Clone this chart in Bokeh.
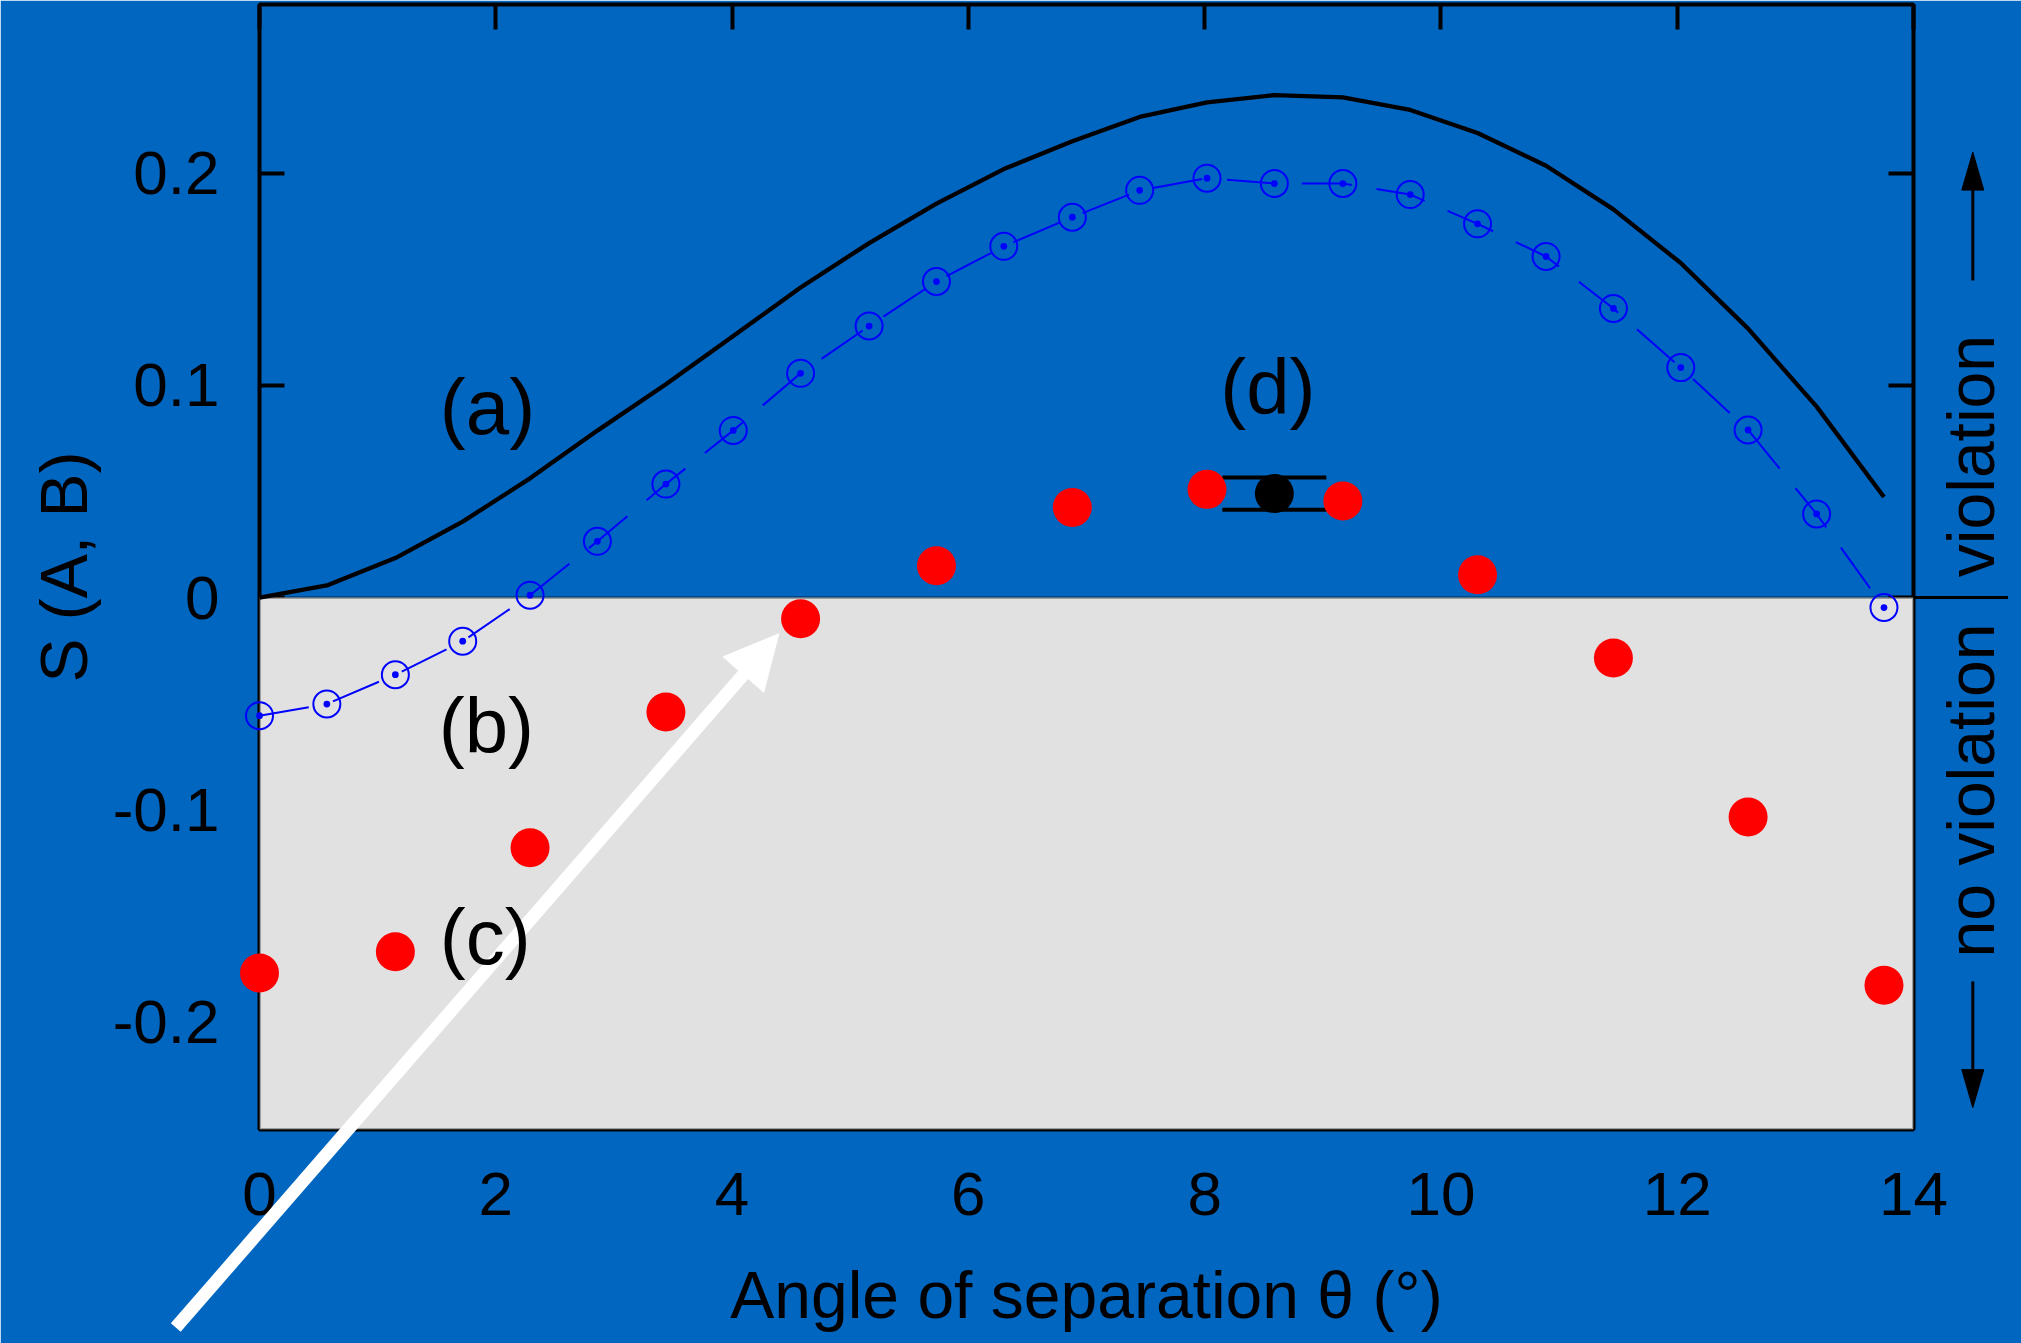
import math
from bokeh.plotting import figure
from bokeh.models import (Range1d, FixedTicker, LinearAxis, BoxAnnotation, Label,
                          TeeHead, Whisker, ColumnDataSource, CustomLabelingPolicy)
from bokeh.core.properties import value
from bokeh.embed import file_html
from bokeh.resources import INLINE

# ---------------- data ----------------
# (c) measured values, red dots
theta_c = [0.0, 1.15, 2.29, 3.44, 4.58, 5.73, 6.88, 8.02, 9.17, 10.31, 11.46, 12.60, 13.75]
s_c = [-0.177, -0.167, -0.118, -0.054, -0.010, 0.015, 0.0425, 0.051, 0.0455, 0.0107,
       -0.0285, -0.1035, -0.1828]

# (a) black curve and (b) blue circles share the same angle grid
theta_ab = [0.0, 0.57, 1.15, 1.72, 2.29, 2.86, 3.44, 4.01, 4.58, 5.16, 5.73, 6.30, 6.88,
            7.45, 8.02, 8.59, 9.17, 9.74, 10.31, 10.89, 11.46, 12.03, 12.60, 13.18, 13.75]
s_a = [0.0, 0.0057, 0.0186, 0.0358, 0.0562, 0.0787, 0.1006, 0.1233, 0.1462, 0.1671,
       0.1857, 0.2020, 0.2151, 0.2266, 0.2335, 0.2369, 0.2358, 0.2299, 0.2190, 0.2036,
       0.1830, 0.1577, 0.1268, 0.0900, 0.0474]
s_b = [-0.0557, -0.0502, -0.0364, -0.0206, 0.0011, 0.0265, 0.0535, 0.0788, 0.1057, 0.1280,
       0.1490, 0.1656, 0.1793, 0.1920, 0.1977, 0.1952, 0.1952, 0.1900, 0.1762, 0.1608,
       0.1363, 0.1084, 0.0790, 0.0394, -0.0047]

# (d) single point with error bar
theta_d = [8.59]
s_d = [0.049]
err_d = [0.0076]

x_ticks = [0, 2, 4, 6, 8, 10, 12, 14]
x_tick_labels = ["0", "2", "4", "6", "8", "10", "12", "14"]
y_ticks = [-0.2, -0.1, 0, 0.1, 0.2]
y_tick_labels = ["-0.2", "-0.1", "0", "0.1", "0.2"]

curve_labels = ["(a)", "(b)", "(c)", "(d)"]
side_labels = ["violation", "no violation"]

# ---------------- style ----------------
BG = "#0066C0"
GRAY = "#E1E1E1"
FONT = "Liberation Sans"
X_MIN, X_MAX = 0, 14
Y_MIN, Y_MAX = -0.2508, 0.2796
W, H = 2021, 1343
B_LEFT, B_RIGHT, B_TOP, B_BOTTOM = 259, 108, 4, 214
# pixels per data unit (for sizing the hand-drawn arrow heads)
XS = (W - B_LEFT - B_RIGHT) / (X_MAX - X_MIN)
YS = (H - B_TOP - B_BOTTOM) / (Y_MAX - Y_MIN)

p = figure(width=W, height=H,
           x_range=Range1d(X_MIN, X_MAX), y_range=Range1d(Y_MIN, Y_MAX),
           output_backend="svg", toolbar_location=None,
           x_axis_location=None, y_axis_location=None,
           min_border_left=B_LEFT, min_border_right=B_RIGHT,
           min_border_top=B_TOP, min_border_bottom=B_BOTTOM,
           background_fill_color=BG, border_fill_color=BG,
           outline_line_color="black", outline_line_width=4)
p.grid.visible = False


def tick_only_axis(ticks):
    ax = LinearAxis(ticker=FixedTicker(ticks=ticks),
                    major_label_policy=CustomLabelingPolicy(code="return []"))
    ax.axis_line_color = None
    ax.major_tick_in = 25
    ax.major_tick_out = 0
    ax.major_tick_line_width = 4
    ax.major_tick_line_color = "black"
    ax.minor_tick_line_color = None
    ax.major_label_text_font_size = "0px"
    ax.major_label_standoff = 0
    ax.axis_label = None
    return ax


def label_axis(ticks, labels, title, standoff, title_standoff, tick_marks):
    ax = LinearAxis(ticker=FixedTicker(ticks=ticks),
                    major_label_overrides={t: l for t, l in zip(ticks, labels)})
    ax.axis_line_color = None
    ax.major_tick_line_color = "black" if tick_marks else None
    ax.major_tick_line_width = 4
    ax.minor_tick_line_color = None
    ax.major_tick_in = 25 if tick_marks else 0
    ax.major_tick_out = 0
    ax.major_label_text_font = FONT
    ax.major_label_text_font_size = "62px"
    ax.major_label_text_color = "black"
    ax.major_label_standoff = standoff
    ax.axis_label = title
    ax.axis_label_text_font = FONT
    ax.axis_label_text_font_size = "66px"
    ax.axis_label_text_font_style = "normal"
    ax.axis_label_text_color = "black"
    ax.axis_label_standoff = title_standoff
    return ax


p.add_layout(label_axis(y_ticks, y_tick_labels, "S (A, B)", 40, 9, True), "left")
p.add_layout(label_axis(x_ticks, x_tick_labels, "Angle of separation θ (°)", 43, 40, False),
             "below")
p.add_layout(tick_only_axis(y_ticks), "right")
p.add_layout(tick_only_axis(x_ticks), "above")

# "no violation" half of the frame (covers the ticks there); its border redraws
# the lower frame and the zero line
p.add_layout(BoxAnnotation(top=0, fill_color=GRAY, fill_alpha=1.0,
                           line_color="black", line_width=3, level="annotation"))

# error bar of point (d)
src_d = ColumnDataSource(dict(base=theta_d,
                              lower=[y - e for y, e in zip(s_d, err_d)],
                              upper=[y + e for y, e in zip(s_d, err_d)]))
p.add_layout(Whisker(base="base", lower="lower", upper="upper", source=src_d,
                     dimension="height", line_color="black", line_width=4,
                     upper_head=TeeHead(size=104, line_color="black", line_width=4),
                     lower_head=TeeHead(size=104, line_color="black", line_width=4),
                     level="annotation"))

# data
p.line(theta_ab, s_a, line_color="black", line_width=4.3, level="overlay")
p.line(theta_ab, s_b, line_color="#0000FF", line_width=2, line_dash="50 25",
       level="overlay")
p.scatter(theta_ab, s_b, marker="circle_dot", size=27, fill_color=None,
          line_color="#0000FF", line_width=2, level="overlay")
p.scatter(theta_c, s_c, marker="circle", size=39, fill_color="#FF0000",
          line_color=None, level="overlay")
p.scatter(theta_d, s_d, marker="circle", size=39, fill_color="black",
          line_color=None, level="overlay")

# curve labels
for (lx, ly), txt in zip([(1.93, 0.0897), (1.92, -0.0607), (1.91, -0.1602), (8.535, 0.0994)],
                         curve_labels):
    p.add_layout(Label(x=lx, y=ly, text=txt, text_font=FONT, text_font_size="78px",
                       text_align="center", text_baseline="middle",
                       text_color="black", level="overlay"))

# ---- right-hand margin: zero line extension, texts and arrows (glyphs are not clipped) ----
p.segment(x0=[X_MAX], y0=[0], x1=[14.8], y1=[0], line_color="black", line_width=3,
          level="overlay")
p.text(x=[14.485, 14.485], y=[0.0667, -0.091], text=side_labels, angle=math.pi / 2,
       text_font=value(FONT), text_font_size="66px", text_align="center",
       text_baseline="middle", text_color="black", level="overlay")


def head(tip_x, tip_y, dir_x, dir_y, length, width):
    """triangle arrow head; direction and sizes in screen pixels"""
    n = math.hypot(dir_x, dir_y)
    ux, uy = dir_x / n, dir_y / n
    bx, by = -ux * length, -uy * length
    wx, wy = -uy * width / 2, ux * width / 2
    xs = [tip_x, tip_x + (bx + wx) / XS, tip_x + (bx - wx) / XS]
    ys = [tip_y, tip_y + (by + wy) / YS, tip_y + (by - wy) / YS]
    return xs, ys, tip_x + bx * 0.9 / XS, tip_y + by * 0.9 / YS


ax_x = 14.502
for y_from, y_tip in [(0.1495, 0.210), (-0.181, -0.2405)]:
    hx, hy, sx, sy = head(ax_x, y_tip, 0, 1 if y_tip > y_from else -1, 38, 22)
    p.segment(x0=[ax_x], y0=[y_from], x1=[sx], y1=[sy], line_color="black",
              line_width=3, level="overlay")
    p.patch(hx, hy, fill_color="black", line_color="black", line_width=1, level="overlay")

# big white arrow pointing to the first violating point
tail_x, tail_y = -0.709, -0.3442
tip_x, tip_y = 4.3956, -0.0171
hx, hy, sx, sy = head(tip_x, tip_y, (tip_x - tail_x) * XS, (tip_y - tail_y) * YS, 54, 54)
p.segment(x0=[tail_x], y0=[tail_y], x1=[sx], y1=[sy], line_color="white",
          line_width=13, level="overlay")
p.patch(hx, hy, fill_color="white", line_color="white", line_width=1, level="overlay")

open("out.html", "w").write(file_html(p, INLINE))
